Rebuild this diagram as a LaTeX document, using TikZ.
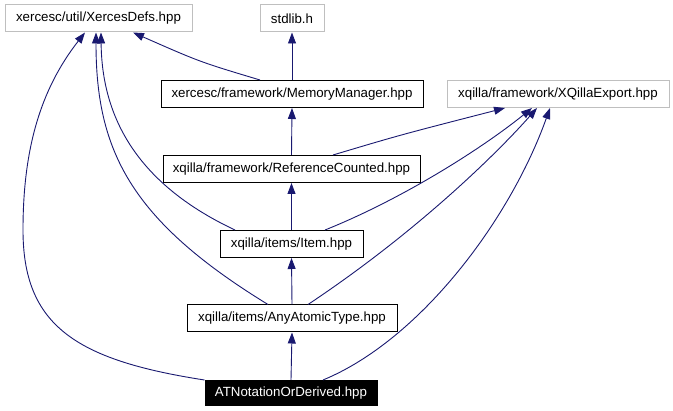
\documentclass[tikz,border=0pt]{standalone}
\usepackage{fontspec}
\setmainfont{Liberation Sans}
\usetikzlibrary{arrows.meta}

\definecolor{edgeblue}{HTML}{191970}
\definecolor{boxgray}{HTML}{BFBFBF}

\begin{document}
\begin{tikzpicture}[x=1pt,y=-1pt,
    file/.style={draw=black,line width=1pt,rectangle,minimum height=27pt,inner sep=0pt,
      font=\fontsize{13.3}{15}\selectfont},
    extfile/.style={file,draw=boxgray},
    topfile/.style={file,fill=black,text=white,minimum height=25pt},
    dep/.style={edgeblue,line width=0.9pt,-{Triangle[length=11pt,width=8pt]}}]

  % Page frame in pixel units
  \useasboundingbox (0,0) rectangle (673,411);

  % Included headers (top row)
  \node[extfile,minimum width=187pt] (defs) at (98.5,18.5) {xercesc/util/XercesDefs.hpp};
  \node[extfile,minimum width=64pt] (stdlib) at (292,18.5) {stdlib.h};

  % Second row
  \node[file,minimum width=262pt] (mem) at (292,94) {xercesc/framework/MemoryManager.hpp};
  \node[extfile,minimum width=222pt] (xqexp) at (558,94) {xqilla/framework/XQillaExport.hpp};

  % Middle column
  \node[file,minimum width=257pt] (refcnt) at (291.5,169) {xqilla/framework/ReferenceCounted.hpp};
  \node[file,minimum width=143pt] (item) at (291.5,244) {xqilla/items/Item.hpp};
  \node[file,minimum width=210pt] (anyat) at (292,318.5) {xqilla/items/AnyAtomicType.hpp};

  % The file itself
  \node[topfile,minimum width=172pt] (atn) at (291,393) {ATNotationOrDerived.hpp};

  % Straight includes down the middle
  \draw[dep] (mem.north) -- (stdlib.south);
  \draw[dep] (refcnt.north) -- (mem.south);
  \draw[dep] (item.north) -- (refcnt.south);
  \draw[dep] (anyat.north) -- (item.south);
  \draw[dep] (atn.north) -- (anyat.south);

  % Includes of XercesDefs.hpp
  \draw[dep] ([xshift=-32pt]mem.north) .. controls (200,62) .. ([xshift=34.5pt]defs.south);
  \draw[dep] ([xshift=-56.5pt]item.north) .. controls (150,190) and (102,130) .. ([xshift=2.5pt]defs.south);
  \draw[dep] ([xshift=-24pt]anyat.north) .. controls (130,220) and (96,150) .. ([xshift=-2.5pt]defs.south);
  \draw[dep] (atn.north west) .. controls (75,360) and (23,325) .. (23,230)
    .. controls (23,150) and (40,90) .. ([xshift=-13.5pt]defs.south);

  % Includes of XQillaExport.hpp
  \draw[dep] ([xshift=41.5pt]refcnt.north) .. controls (400,135) .. ([xshift=-53pt]xqexp.south);
  \draw[dep] ([xshift=33.5pt]item.north) .. controls (400,200) and (480,150) .. ([xshift=-26pt]xqexp.south);
  \draw[dep] ([xshift=16pt]anyat.north) .. controls (420,230) and (500,150) .. ([xshift=-21pt]xqexp.south);
  \draw[dep] ([xshift=32pt]atn.north) .. controls (420,340) and (510,220) .. ([xshift=-8pt]xqexp.south);

\end{tikzpicture}
\end{document}
